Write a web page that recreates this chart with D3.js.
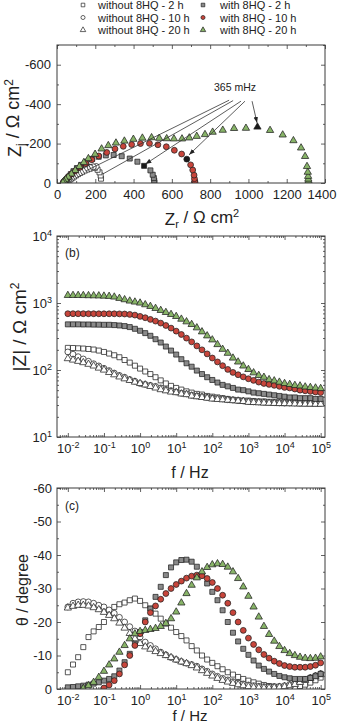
<!DOCTYPE html>
<html>
<head>
<meta charset="utf-8">
<script src="https://cdn.jsdelivr.net/npm/d3@7"></script>
<style>
  body { margin: 0; background: #fff; }
  svg { display: block; }
  text { font-family: "Liberation Sans", Arial, sans-serif; fill: #222; }
</style>
</head>
<body>
<script>
// ---------------------------------------------------------------
// Data (EIS of coatings, with / without 8HQ)
// ---------------------------------------------------------------

var seriesNames = ["without 8HQ - 2 h", "without 8HQ - 10 h", "without 8HQ - 20 h",
                   "with 8HQ - 2 h", "with 8HQ - 10 h", "with 8HQ - 20 h"];

// measured frequencies, Hz
var freq = [0.01, 0.0139, 0.0193, 0.0268, 0.0373, 0.0518, 0.072,
            0.1, 0.139, 0.193, 0.268, 0.373, 0.518, 0.72,
            1, 1.39, 1.93, 2.68, 3.73, 5.18, 7.2,
            10, 13.9, 19.3, 26.8, 37.3, 51.8, 72,
            100, 139, 193, 268, 373, 518, 720,
            1000, 1389, 1931, 2683, 3728, 5179, 7197,
            10000, 13895, 19307, 26827, 37276, 51795, 71969,
            100000];

// |Z| in ohm cm2
var zmodWo2  = [214,213,211,209,206,202,195, 186,176,166,155,141,129,116, 105,95,87,78,70,63,58,
                54,51,48,46,44,43,41, 40,39,38,37,36,35.5,35, 35,34.5,34,34,33.5,33.5,33,
                33,33,32.5,32.5,32.5,32,32, 32];
var zmodWo10 = [186,172,158,146,135,124,115, 106,98,90,83,78,72,68, 63,61,59,57,54,51,49,
                47,45,44,42,41,40,39, 38,37.5,37,36,35.5,35,34.5, 34,33.5,33.3,33,32.8,32.5,32.3,
                32,32,32,31.8,31.8,31.8,31.8, 31.8];
var zmodWo20 = [148,141,135,129,122,115,107, 100,92,85,79,74,70,66, 63,60,57,54,51,49,47,
                46,44,43,41,40,39,38, 37,36.5,36,35.5,35,34.5,34, 33,32.8,32.5,32.2,32,31.8,31.6,
                31.6,31.5,31.3,31.2,31,31,30.9, 30.9];
var zmodW2   = [480,480,480,478,478,476,475, 473,473,468,462,452,437,412, 385,355,324,288,257,224,195,
                170,145,126,112,98,87,78, 71,65,60,57,54,51,50, 48,46,45,44,43,42,41,
                40,39,39,38,38,38,37, 37];
var zmodW10  = [692,692,692,692,691,691,690, 690,690,690,688,685,675,660, 631,603,569,537,501,462,422,
                380,339,299,263,229,200,174, 151,132,116,102,92,85,79, 74,70,66,63,61,59,57,
                55,54,52,50,49,48,47, 46];
var zmodW20  = [1300,1300,1300,1295,1290,1285,1280, 1270,1259,1230,1175,1122,1072,1035, 1000,944,891,832,776,724,676,
                631,575,525,479,427,372,324, 282,240,204,178,151,132,115, 102,91,83,78,72,69,66,
                63,61,59,58,56,55,54, 53];

// -theta in degrees (null = below the axis, not shown)
var phaseWo2  = [5.0,7.3,9.5,12.5,15.5,17.2,18.5, 20.0,22.5,24.5,25.3,25.8,26.5,27.0, 26.3,25.0,24.0,22.5,21.0,19.5,18.3,
                 17.0,15.8,14.5,12.8,11.5,10.0,8.8, 7.8,6.8,5.9,5.0,4.3,3.6,3.0, 2.5,2.0,1.6,1.2,0.9,0.7,0.6,
                 0.5,0.5,0.6,0.9,1.3,1.9,2.6, 3.4];
var phaseWo10 = [24.5,25.6,26.0,26.1,26.0,25.6,25.0, 24.5,23.6,22.6,21.4,20.0,18.6,17.3, 15.5,14.0,13.0,12.0,11.0,10.2,9.4,
                 8.8,8.2,7.7,7.3,6.8,6.0,5.3, 4.5,3.8,3.2,2.7,2.2,1.8,1.5, 1.2,1.0,0.8,0.7,0.7,0.7,0.8,
                 1.0,1.3,1.7,2.2,2.8,3.4,4.0, 4.6];
var phaseWo20 = [24.2,24.7,25.0,25.0,24.8,24.3,23.7, 22.9,22.0,21.0,19.7,18.2,16.6,15.0, 13.6,12.6,11.9,11.2,10.6,10.0,9.4,
                 8.7,8.1,7.6,7.0,6.3,5.5,4.7, 3.9,3.2,2.6,2.1,1.7,1.3,1.0, 0.7,0.5,0.4,0.3,0.3,0.4,0.5,
                 0.7,1.0,1.4,2.0,2.6,3.2,3.8, 4.3];
var phaseW2   = [0.5,0.6,0.8,1.0,1.3,1.6,2.0, 2.5,3.0,3.8,5.5,8.0,10.5,13.5, 17.0,20.5,24.0,27.5,30.5,34.0,36.3,
                 37.8,38.5,38.6,38.0,36.5,34.0,31.5, 29.0,26.5,23.5,20.0,16.8,14.2,12.0, 10.2,8.5,7.0,6.0,5.2,4.5,3.9,
                 3.5,3.2,3.0,3.0,3.0,3.3,3.8, 4.5];
var phaseW10  = [null,null,null,null,null,null,null, 0.3,1.2,2.5,4.5,7.2,10.0,13.0, 16.5,20.0,22.8,24.8,26.8,28.5,30.0,
                 31.2,32.2,33.1,33.7,34.0,33.8,33.0, 31.8,30.0,28.0,25.6,22.8,20.0,17.5, 15.2,13.3,11.7,10.3,9.2,8.3,7.6,
                 7.0,6.7,6.5,6.5,6.5,6.7,7.1, 7.8];
var phaseW20  = [null,null,null,0.2,1.0,2.0,3.5, 5.3,7.2,9.0,11.0,13.0,15.0,16.5, 17.2,17.5,17.8,18.1,18.7,19.6,21.0,
                 23.0,25.7,28.5,31.0,33.2,35.0,36.3, 37.1,37.4,37.2,36.4,35.0,33.0,30.5, 27.7,24.5,21.5,18.7,16.3,14.3,12.7,
                 11.5,10.6,10.0,9.5,9.2,9.1,9.2, 9.6];

// Nyquist points [Zr, -Zi] in ohm cm2, low to high frequency
var nyqWo2  = [[230,22],[228,38],[222,54],[212,67],[198,77],[181,82],[163,81],[146,76],[129,69],[113,60],
               [98,51],[85,42],[74,33],[64,25],[56,18],[49,12],[44,8],[40,5],[37,3],[35,1]];
var nyqWo10 = [[205,84],[190,82],[174,78],[158,72],[143,66],[129,59],[116,52],[104,45],[93,38],[83,32],
               [74,26],[66,20],[58,15],[52,11],[46,7],[42,4],[38,2],[36,1]];
var nyqWo20 = [[165,70],[152,66],[139,61],[127,55],[115,49],[104,43],[94,37],[85,31],[76,25],[68,20],
               [61,15],[55,11],[50,8],[45,5],[41,3],[38,2],[35,1]];
var nyqW2   = [[509,3],[508,12],[506,25],[500,42],[488,64],[455,87],[420,108],[380,124],[338,136],[296,142],
               [255,140],[218,133],[184,122],[153,108],[126,92],[104,76],[86,60],[72,45],[61,32],[53,22],
               [47,14],[43,8],[40,4],[38,2]];
var nyqW10  = [[721,3],[720,10],[718,22],[716,40],[709,66],[698,92],[678,121],[651,147],[613,166],[571,184],
               [527,194],[483,201],[436,200],[390,195],[346,186],[303,173],[260,155],[218,137],[182,118],[150,99],
               [121,80],[96,62],[76,46],[60,32],[48,20],[40,11],[35,5],[32,2]];
var nyqW20  = [[1315,3],[1314,10],[1313,20],[1312,34],[1310,55],[1306,84],[1296,135],[1275,178],[1235,215],[1179,244],
               [1113,267],[1047,284],[987,278],[925,277],[866,268],[813,258],[773,246],[730,237],[691,229],[653,224],
               [611,224],[573,225],[534,227],[494,230],[446,228],[399,222],[352,213],[308,203],[268,190],[233,173],
               [199,146],[164,124],[140,104],[117,84],[95,64],[75,46],[58,30],[45,17],[36,8],[31,2]];
// index of the 365 mHz point in each Nyquist series (-1 = not marked)
var nyqMarkIdx = [-1, -1, -1, 5, 6, 11];

// 365 mHz annotation: leader lines in Nyquist data units
var annoLines = [[899,420,152,62],[920,418,240,46],[961,415,462,96],[982,415,690,143],[1019,415,1045,305]];
var annoArrow = [false, false, true, true, true];

// tick values
var xTicksA = [0, 200, 400, 600, 800, 1000, 1200, 1400];
var yTicksA = [0, 200, 400, 600];
var decades = [-2, -1, 0, 1, 2, 3, 4, 5];
var yDecadesB = [1, 2, 3, 4];
var yTicksC = [0, 10, 20, 30, 40, 50, 60];

// ---------------------------------------------------------------
// Styles
// ---------------------------------------------------------------
var shapes = [d3.symbolSquare, d3.symbolCircle, d3.symbolTriangle,
              d3.symbolSquare, d3.symbolCircle, d3.symbolTriangle];
var fills = ["#ffffff", "#ffffff", "#ffffff", "#8a8a8a", "#c8453b", "#88b468"];
var sizes = [25, 27, 23, 25, 27, 23];
var font = "'Liberation Sans', Arial, sans-serif";

var series = seriesNames.map(function(name, i) {
    return {
        name: name,
        zmod: [zmodWo2, zmodWo10, zmodWo20, zmodW2, zmodW10, zmodW20][i],
        phase: [phaseWo2, phaseWo10, phaseWo20, phaseW2, phaseW10, phaseW20][i],
        nyq: [nyqWo2, nyqWo10, nyqWo20, nyqW2, nyqW10, nyqW20][i],
        mark: nyqMarkIdx[i]
    };
});

var W = 337, H = 725;
var left = 57, right = 325;

var svg = d3.select("body").append("svg")
    .attr("width", W)
    .attr("height", H);

var defs = svg.append("defs");
defs.append("marker")
    .attr("id", "arr")
    .attr("viewBox", "0 0 8 6")
    .attr("refX", 8).attr("refY", 3)
    .attr("markerWidth", 6).attr("markerHeight", 5)
    .attr("markerUnits", "userSpaceOnUse")
    .attr("orient", "auto")
  .append("path")
    .attr("d", "M0,0 L8,3 L0,6 z")
    .attr("fill", "#222");

// helpers ---------------------------------------------------------
function clip(id, top, bottom) {
    defs.append("clipPath").attr("id", id)
      .append("rect")
        .attr("x", left).attr("y", top)
        .attr("width", right - left).attr("height", bottom - top);
}

function frame(top, bottom) {
    svg.append("rect")
        .attr("x", left).attr("y", top)
        .attr("width", right - left).attr("height", bottom - top)
        .attr("fill", "none")
        .attr("stroke", "#3a3a3a")
        .attr("stroke-width", 1);
}

function styleAxis(g, size) {
    g.select(".domain").remove();
    g.selectAll(".tick line").attr("stroke", "#3a3a3a").attr("stroke-width", 0.8);
    g.selectAll(".tick text").attr("font-size", size).attr("font-family", font).attr("fill", "#222");
}

function logMinors(scale) {
    var d = scale.domain(), out = [];
    for (var e = -3; e <= 5; e++) {
        for (var m = 2; m <= 9; m++) {
            var v = m * Math.pow(10, e);
            if (v > d[0] && v < d[1]) out.push(v);
        }
    }
    return out;
}

function powLabels(g) {
    g.selectAll(".tick text").each(function(d) {
        var t = d3.select(this);
        var e = Math.round(Math.log10(d));
        t.text(null);
        t.append("tspan").text("10");
        t.append("tspan").attr("dy", "-0.55em").attr("font-size", "9px").text(e);
    });
}

// all four sides, ticks pointing in
function boxAxes(x, y, top, bottom, opt) {
    var majX = opt.xMajor, minX = opt.xMinor, majY = opt.yMajor, minY = opt.yMinor;
    var gb = svg.append("g").attr("transform", "translate(0," + bottom + ")")
        .call(d3.axisBottom(x).tickValues(majX).tickSize(-4).tickPadding(opt.xPad).tickFormat(opt.xFormat));
    styleAxis(gb, opt.fontSize);
    if (opt.xLog) powLabels(gb);
    var gl = svg.append("g").attr("transform", "translate(" + left + ",0)")
        .call(d3.axisLeft(y).tickValues(majY).tickSize(-4).tickPadding(opt.yPad).tickFormat(opt.yFormat));
    styleAxis(gl, opt.fontSize);
    if (opt.yLog) powLabels(gl);
    // mirrored and minor ticks
    [[d3.axisBottom, bottom, x, minX, -2], [d3.axisTop, top, x, majX, -4], [d3.axisTop, top, x, minX, -2]].forEach(function(a) {
        var g = svg.append("g").attr("transform", "translate(0," + a[1] + ")")
            .call(a[0](a[2]).tickValues(a[3]).tickSize(a[4]).tickFormat(""));
        styleAxis(g, 1);
    });
    [[d3.axisLeft, left, y, minY, -2], [d3.axisRight, right, y, majY, -4], [d3.axisRight, right, y, minY, -2]].forEach(function(a) {
        var g = svg.append("g").attr("transform", "translate(" + a[1] + ",0)")
            .call(a[0](a[2]).tickValues(a[3]).tickSize(a[4]).tickFormat(""));
        styleAxis(g, 1);
    });
    return gb;
}

function drawSeries(g, pts, i, mark) {
    g.selectAll(null)
        .data(pts)
        .enter()
        .append("path")
        .attr("d", d3.symbol().type(shapes[i]).size(sizes[i]))
        .attr("transform", function(d) { return "translate(" + d[0] + "," + d[1] + ")"; })
        .attr("fill", function(d, j) { return j === mark ? "#1a1a1a" : fills[i]; })
        .attr("stroke", "#222")
        .attr("stroke-width", 0.75);
}

// ==============================================================
//                          Legend
// ==============================================================
var legY = [5, 17.5, 30];
series.forEach(function(s, i) {
    var col = i < 3 ? 0 : 1;
    var row = i % 3;
    var sx = col === 0 ? 83 : 203;
    svg.append("path")
        .attr("d", d3.symbol().type(shapes[i]).size(13))
        .attr("transform", "translate(" + sx + "," + legY[row] + ")")
        .attr("fill", fills[i])
        .attr("stroke", "#222")
        .attr("stroke-width", 0.7);
    svg.append("text")
        .attr("x", col === 0 ? 98 : 220)
        .attr("y", legY[row] + 4)
        .attr("font-size", "11px")
        .text(s.name);
});

// ==============================================================
//                    (a) Nyquist diagram
// ==============================================================
var topA = 45, botA = 183;
var xA = d3.scaleLinear().domain([0, 1400]).range([left, right]);
var yA = d3.scaleLinear().domain([0, 700]).range([botA, topA]);

var gxA = boxAxes(xA, yA, topA, botA, {
    xMajor: xTicksA, xMinor: d3.range(100, 1400, 200),
    yMajor: yTicksA, yMinor: [100, 300, 500, 700],
    xFormat: d3.format("d"), yFormat: function(d) { return d === 0 ? "0" : "-" + d; },
    xPad: 7, yPad: 6, fontSize: "13px"
});
// keep the last label inside the page
gxA.selectAll(".tick text").filter(function(d) { return d === 1400; })
    .attr("text-anchor", "end").attr("dx", 11);

clip("clipA", topA, botA);
var gA = svg.append("g").attr("clip-path", "url(#clipA)");
series.forEach(function(s, i) {
    drawSeries(gA, s.nyq.map(function(p) { return [xA(p[0]), yA(p[1])]; }), i, s.mark);
});
frame(topA, botA);

// 365 mHz annotation
annoLines.forEach(function(l, i) {
    svg.append("line")
        .attr("x1", xA(l[0])).attr("y1", yA(l[1]))
        .attr("x2", xA(l[2])).attr("y2", yA(l[3]))
        .attr("stroke", "#333")
        .attr("stroke-width", 0.8)
        .attr("marker-end", annoArrow[i] ? "url(#arr)" : null);
});
svg.append("text")
    .attr("x", xA(930)).attr("y", yA(467))
    .attr("text-anchor", "middle")
    .attr("font-size", "10.5px")
    .text("365 mHz");

// axis titles
var tA = svg.append("text").attr("x", 202).attr("y", 225).attr("text-anchor", "middle").attr("font-size", "17px");
tA.append("tspan").text("Z");
tA.append("tspan").attr("dy", "0.3em").attr("font-size", "11px").text("r");
tA.append("tspan").attr("dy", "-0.3em").text(" / \u03A9 cm");
tA.append("tspan").attr("dy", "-0.55em").attr("font-size", "11px").text("2");

var tAy = svg.append("text")
    .attr("transform", "translate(21,118) rotate(-90)")
    .attr("text-anchor", "middle").attr("font-size", "18px");
tAy.append("tspan").text("Z");
tAy.append("tspan").attr("dy", "0.3em").attr("font-size", "12px").text("j");
tAy.append("tspan").attr("dy", "-0.3em").text(" / \u03A9 cm");
tAy.append("tspan").attr("dy", "-0.55em").attr("font-size", "12px").text("2");

// ==============================================================
//                    (b) Bode modulus
// ==============================================================
var topB = 236, botB = 437;
var xB = d3.scaleLog().domain([Math.pow(10, -2.3), Math.pow(10, 5.12)]).range([left, right]);
var yB = d3.scaleLog().domain([10, 10000]).range([botB, topB]);

boxAxes(xB, yB, topB, botB, {
    xMajor: decades.map(function(e) { return Math.pow(10, e); }), xMinor: logMinors(xB),
    yMajor: yDecadesB.map(function(e) { return Math.pow(10, e); }), yMinor: logMinors(yB),
    xFormat: null, yFormat: null, xLog: true, yLog: true,
    xPad: 7, yPad: 5, fontSize: "13px"
});

clip("clipB", topB, botB);
var gB = svg.append("g").attr("clip-path", "url(#clipB)");
series.forEach(function(s, i) {
    drawSeries(gB, freq.map(function(f, k) { return [xB(f), yB(s.zmod[k])]; }), i, -1);
});
frame(topB, botB);

svg.append("text").attr("x", 65).attr("y", 257).attr("font-size", "12px").text("(b)");

var tBy = svg.append("text")
    .attr("transform", "translate(26,327) rotate(-90)")
    .attr("text-anchor", "middle").attr("font-size", "19px");
tBy.append("tspan").text("|Z| / \u03A9 cm");
tBy.append("tspan").attr("dy", "-0.55em").attr("font-size", "12px").text("2");

svg.append("text").attr("x", 190).attr("y", 478).attr("text-anchor", "middle")
    .attr("font-size", "16px").text("f / Hz");

// ==============================================================
//                    (c) Bode phase
// ==============================================================
var topC = 488, botC = 689;
var xC = d3.scaleLog().domain([Math.pow(10, -2.3), Math.pow(10, 5.12)]).range([left, right]);
var yC = d3.scaleLinear().domain([0, 60]).range([botC, topC]);

boxAxes(xC, yC, topC, botC, {
    xMajor: decades.map(function(e) { return Math.pow(10, e); }), xMinor: logMinors(xC),
    yMajor: yTicksC, yMinor: [5, 15, 25, 35, 45, 55],
    xFormat: null, yFormat: function(d) { return d === 0 ? "0" : "-" + d; }, xLog: true,
    xPad: 7, yPad: 5, fontSize: "13px"
});

clip("clipC", topC, botC);
var gC = svg.append("g").attr("clip-path", "url(#clipC)");
series.forEach(function(s, i) {
    var pts = [];
    freq.forEach(function(f, k) {
        if (s.phase[k] !== null) pts.push([xC(f), yC(s.phase[k])]);
    });
    drawSeries(gC, pts, i, -1);
});
frame(topC, botC);

svg.append("text").attr("x", 65).attr("y", 510).attr("font-size", "12px").text("(c)");

svg.append("text")
    .attr("transform", "translate(28,590) rotate(-90)")
    .attr("text-anchor", "middle").attr("font-size", "16px")
    .text("\u03B8 / degree");

svg.append("text").attr("x", 190).attr("y", 721).attr("text-anchor", "middle")
    .attr("font-size", "15px").text("f / Hz");
</script>
</body>
</html>
